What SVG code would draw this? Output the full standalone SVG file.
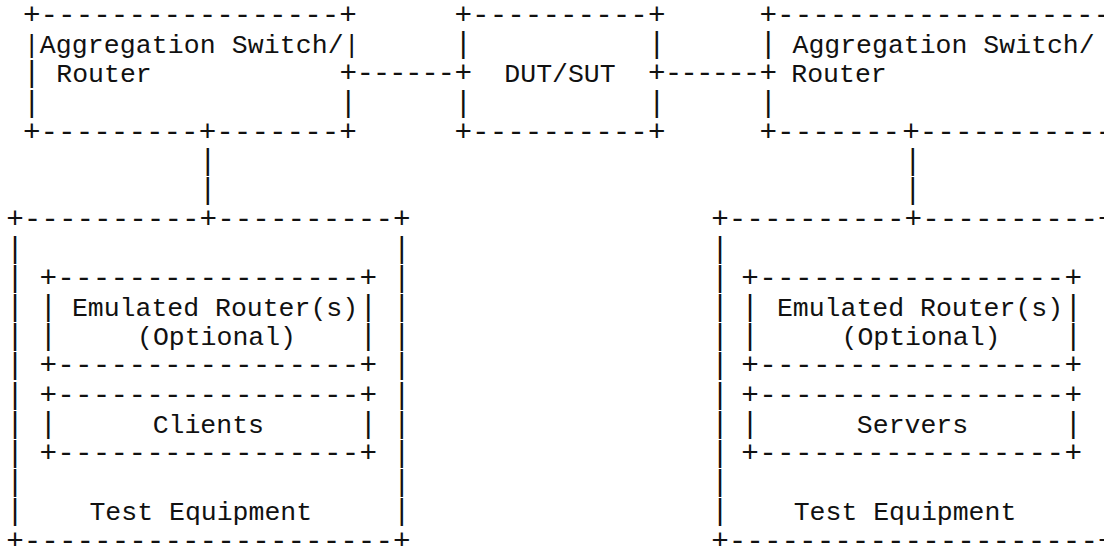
<svg xmlns="http://www.w3.org/2000/svg" xmlns:xlink="http://www.w3.org/1999/xlink" width="1104" height="546" viewBox="0 0 1104 546">
  <style>
    text { font-family: "Liberation Mono", "Courier New", monospace; fill: #111; }
    .b { font-size: 29.3px; }
    .t { font-size: 26.5px; }
    .c { text-anchor: middle; }
  </style>
  <defs>
    <!-- single box-drawing glyphs reused for the vertical edges -->
    <text id="bar" class="b">|</text>
    <text id="plus" class="b">+</text>
  </defs>
  <rect width="1104" height="546" fill="#fff"/>

  <!-- Aggregation switch / router (client side) -->
  <g id="agg-left">
    <text class="b" x="22.9" y="24">+-----------------+</text>
    <text class="t" x="23.7" y="53.2" textLength="336" lengthAdjust="spacing">|Aggregation Switch/|</text>
    <use href="#bar" x="22.9" y="82.4"/>
    <text class="t" x="56.3" y="82.4">Router</text>
    <use href="#plus" x="339.5" y="82.4"/>
    <use href="#bar" x="22.9" y="111.6"/>
    <use href="#bar" x="339.5" y="111.6"/>
    <text class="b" x="22.9" y="140.8">+---------+-------+</text>
  </g>

  <!-- Device / system under test -->
  <g id="dut">
    <text class="b" x="454.5" y="24">+----------+</text>
    <use href="#bar" x="454.5" y="53.2"/>
    <use href="#bar" x="647.9" y="53.2"/>
    <use href="#plus" x="454.5" y="82.4"/>
    <text class="t c" x="560" y="82.4">DUT/SUT</text>
    <use href="#plus" x="647.9" y="82.4"/>
    <use href="#bar" x="454.5" y="111.6"/>
    <use href="#bar" x="647.9" y="111.6"/>
    <text class="b" x="454.5" y="140.8">+----------+</text>
  </g>

  <!-- Aggregation switch / router (server side) -->
  <g id="agg-right">
    <text class="b" x="759.5" y="24">+-------------------+</text>
    <use href="#bar" x="759.5" y="53.2"/>
    <text class="t" x="792.5" y="53.2">Aggregation Switch/</text>
    <use href="#plus" x="759.5" y="82.4"/>
    <text class="t" x="791.3" y="82.4">Router</text>
    <use href="#bar" x="759.5" y="111.6"/>
    <text class="b" x="759.5" y="140.8">+-------</text>
    <text class="b" x="902.2" y="140.8">+-----------+</text>
  </g>

  <!-- Test equipment: emulated routers + clients -->
  <g id="test-left">
    <text class="b" x="6.2" y="228.4">+----------+----------+</text>
    <g id="test-left-edges">
      <use href="#bar" x="6.2" y="257.6"/><use href="#bar" x="393" y="257.6"/>
      <use href="#bar" x="6.2" y="286.8"/><use href="#bar" x="393" y="286.8"/>
      <use href="#bar" x="6.2" y="316"/><use href="#bar" x="393" y="316"/>
      <use href="#bar" x="6.2" y="345.2"/><use href="#bar" x="393" y="345.2"/>
      <use href="#bar" x="6.2" y="374.4"/><use href="#bar" x="393" y="374.4"/>
      <use href="#bar" x="6.2" y="403.6"/><use href="#bar" x="393" y="403.6"/>
      <use href="#bar" x="6.2" y="432.8"/><use href="#bar" x="393" y="432.8"/>
      <use href="#bar" x="6.2" y="462"/><use href="#bar" x="393" y="462"/>
      <use href="#bar" x="6.2" y="491.2"/><use href="#bar" x="393" y="491.2"/>
      <use href="#bar" x="6.2" y="520.4"/><use href="#bar" x="393" y="520.4"/>
    </g>
    <g id="emulated-left">
      <text class="b" x="39.5" y="286.8" textLength="337.6" lengthAdjust="spacing">+-----------------+</text>
      <use href="#bar" x="39.5" y="316"/><use href="#bar" x="359.5" y="316"/>
      <text class="t c" x="215" y="316">Emulated Router(s)</text>
      <use href="#bar" x="39.5" y="345.2"/><use href="#bar" x="359.5" y="345.2"/>
      <text class="t c" x="216.5" y="345.2">(Optional)</text>
      <text class="b" x="39.5" y="374.4" textLength="337.6" lengthAdjust="spacing">+-----------------+</text>
    </g>
    <g id="clients">
      <text class="b" x="39.5" y="403.6" textLength="337.6" lengthAdjust="spacing">+-----------------+</text>
      <use href="#bar" x="39.5" y="432.8"/><use href="#bar" x="359.5" y="432.8"/>
      <text class="t c" x="208.3" y="432.8">Clients</text>
      <text class="b" x="39.5" y="462" textLength="337.6" lengthAdjust="spacing">+-----------------+</text>
    </g>
    <text class="t c" x="200.8" y="520.4">Test Equipment</text>
    <text class="b" x="6.2" y="549.6">+---------------------+</text>
  </g>

  <!-- Test equipment: emulated routers + servers -->
  <g id="test-right">
    <text class="b" x="711.2" y="228.4">+----------+----------+</text>
    <g id="test-right-edges">
      <use href="#bar" x="711.2" y="257.6"/><use href="#bar" x="1098" y="257.6"/>
      <use href="#bar" x="711.2" y="286.8"/><use href="#bar" x="1098" y="286.8"/>
      <use href="#bar" x="711.2" y="316"/><use href="#bar" x="1098" y="316"/>
      <use href="#bar" x="711.2" y="345.2"/><use href="#bar" x="1098" y="345.2"/>
      <use href="#bar" x="711.2" y="374.4"/><use href="#bar" x="1098" y="374.4"/>
      <use href="#bar" x="711.2" y="403.6"/><use href="#bar" x="1098" y="403.6"/>
      <use href="#bar" x="711.2" y="432.8"/><use href="#bar" x="1098" y="432.8"/>
      <use href="#bar" x="711.2" y="462"/><use href="#bar" x="1098" y="462"/>
      <use href="#bar" x="711.2" y="491.2"/><use href="#bar" x="1098" y="491.2"/>
      <use href="#bar" x="711.2" y="520.4"/><use href="#bar" x="1098" y="520.4"/>
    </g>
    <g id="emulated-right">
      <text class="b" x="741.2" y="286.8" textLength="340.9" lengthAdjust="spacing">+-----------------+</text>
      <use href="#bar" x="741.2" y="316"/><use href="#bar" x="1064.5" y="316"/>
      <text class="t c" x="920" y="316">Emulated Router(s)</text>
      <use href="#bar" x="741.2" y="345.2"/><use href="#bar" x="1064.5" y="345.2"/>
      <text class="t c" x="921" y="345.2">(Optional)</text>
      <text class="b" x="741.2" y="374.4" textLength="340.9" lengthAdjust="spacing">+-----------------+</text>
    </g>
    <g id="servers">
      <text class="b" x="741.2" y="403.6" textLength="340.9" lengthAdjust="spacing">+-----------------+</text>
      <use href="#bar" x="741.2" y="432.8"/><use href="#bar" x="1064.5" y="432.8"/>
      <text class="t c" x="912.5" y="432.8">Servers</text>
      <text class="b" x="741.2" y="462" textLength="340.9" lengthAdjust="spacing">+-----------------+</text>
    </g>
    <text class="t c" x="905" y="520.4">Test Equipment</text>
    <text class="b" x="711.2" y="549.6">+---------------------+</text>
  </g>

  <!-- Links between the boxes -->
  <g id="connectors">
    <text class="b" x="356.5" y="82.4" textLength="98.6" lengthAdjust="spacing">------</text>
    <text class="b" x="664.7" y="82.4" textLength="95.7" lengthAdjust="spacing">------</text>
    <use href="#bar" x="198.9" y="170"/>
    <use href="#bar" x="198.9" y="199.2"/>
    <use href="#bar" x="903.9" y="170"/>
    <use href="#bar" x="903.9" y="199.2"/>
  </g>
</svg>
